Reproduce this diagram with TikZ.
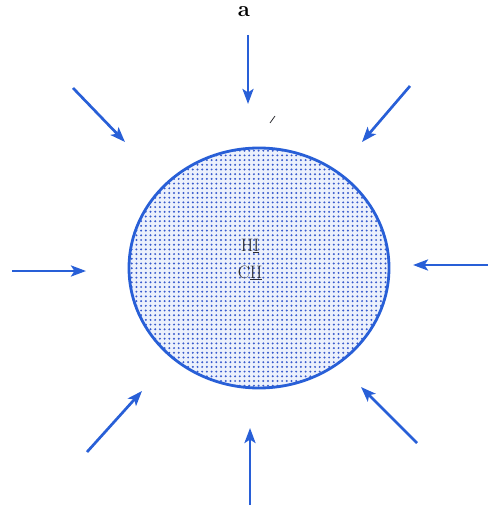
\documentclass[tikz,border=0pt]{standalone}
\usetikzlibrary{arrows.meta,shapes.geometric}
\definecolor{arrowblue}{RGB}{40,95,215}
\definecolor{dotblue}{RGB}{55,90,205}
\definecolor{tintblue}{RGB}{236,241,252}
\definecolor{textgray}{RGB}{45,45,50}
\begin{document}
\begin{tikzpicture}[x=1pt,y=-1pt,
  inarrow/.style={draw=arrowblue,line width=2.7pt,-{Stealth[length=15pt,width=11pt,inset=3.5pt]}},
  lbl/.style={font=\fontsize{18}{18}\selectfont,text=textgray,inner sep=0pt}]
\useasboundingbox (0,0) rectangle (498,510);
% dotted fill of the sphere
\begin{scope}
  \clip (259,268) ellipse [x radius=130, y radius=120];
  \fill[tintblue] (259,268) ellipse [x radius=130, y radius=120];
  \foreach \j in {0,...,52} {
    \foreach \i in {0,...,57} {
      \fill[dotblue] ({127+\i*4.7},{146+\j*4.7}) circle (1.1);
    }
  }
\end{scope}
\node[draw=arrowblue,line width=2.8pt,ellipse,minimum width=260,minimum height=240,inner sep=0pt] (sphere) at (259,268) {};
\node[lbl] (hi) at (250,246) {H\underline{I}};
\node[lbl] (cii) at (250,273) {C\underline{II}};
\node[font=\bfseries\fontsize{22}{22}\selectfont,inner sep=0pt] (a) at (244,12) {a};
% arrows
\coordinate (t0) at (248,35);  \coordinate (t1) at (248,104);
\coordinate (tl0) at (73,88);  \coordinate (tl1) at (125,142);
\coordinate (tr0) at (410,86); \coordinate (tr1) at (362,142);
\coordinate (l0) at (12,271);  \coordinate (l1) at (86,271);
\coordinate (r0) at (488,265); \coordinate (r1) at (413,265);
\coordinate (br0) at (417,443);\coordinate (br1) at (361,387);
\coordinate (bl0) at (87,452); \coordinate (bl1) at (142,391);
\coordinate (b0) at (250,505); \coordinate (b1) at (250,428);
\foreach \s/\e in {t0/t1,tl0/tl1,tr0/tr1,l0/l1,r0/r1,br0/br1,bl0/bl1,b0/b1}
  \draw[inarrow] (\s) -- (\e);
% small mark
\coordinate (m0) at (270,123); \coordinate (m1) at (275,116);
\draw[textgray,line width=0.8pt] (m0) -- (m1);
\end{tikzpicture}
\end{document}
